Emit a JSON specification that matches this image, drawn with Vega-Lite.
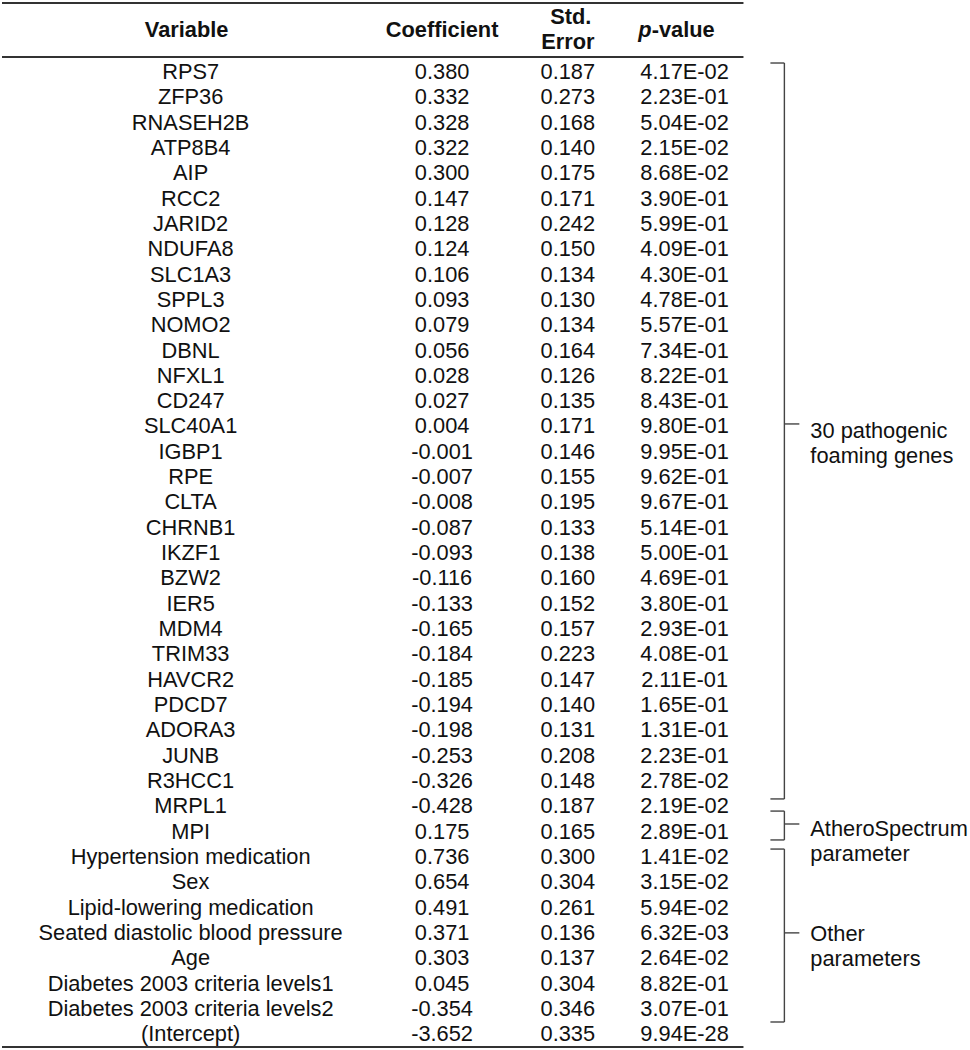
{
  "$schema": "https://vega.github.io/schema/vega-lite/v6.json",
  "width": 970,
  "height": 1050,
  "autosize": {"type": "fit", "contains": "padding"},
  "padding": 0,
  "background": "white",
  "data": {"values": [{}]},
  "config": {
    "view": {"stroke": null},
    "axis": {"disable": true},
    "text": {"font": "Liberation Sans", "fontSize": 21.8, "color": "#111111", "baseline": "middle"},
    "rule": {"color": "#333333"}
  },
  "datasets": {
    "rows": [
      {"row": 0, "variable": "RPS7", "coef": "0.380", "se": "0.187", "p": "4.17E-02"},
      {"row": 1, "variable": "ZFP36", "coef": "0.332", "se": "0.273", "p": "2.23E-01"},
      {"row": 2, "variable": "RNASEH2B", "coef": "0.328", "se": "0.168", "p": "5.04E-02"},
      {"row": 3, "variable": "ATP8B4", "coef": "0.322", "se": "0.140", "p": "2.15E-02"},
      {"row": 4, "variable": "AIP", "coef": "0.300", "se": "0.175", "p": "8.68E-02"},
      {"row": 5, "variable": "RCC2", "coef": "0.147", "se": "0.171", "p": "3.90E-01"},
      {"row": 6, "variable": "JARID2", "coef": "0.128", "se": "0.242", "p": "5.99E-01"},
      {"row": 7, "variable": "NDUFA8", "coef": "0.124", "se": "0.150", "p": "4.09E-01"},
      {"row": 8, "variable": "SLC1A3", "coef": "0.106", "se": "0.134", "p": "4.30E-01"},
      {"row": 9, "variable": "SPPL3", "coef": "0.093", "se": "0.130", "p": "4.78E-01"},
      {"row": 10, "variable": "NOMO2", "coef": "0.079", "se": "0.134", "p": "5.57E-01"},
      {"row": 11, "variable": "DBNL", "coef": "0.056", "se": "0.164", "p": "7.34E-01"},
      {"row": 12, "variable": "NFXL1", "coef": "0.028", "se": "0.126", "p": "8.22E-01"},
      {"row": 13, "variable": "CD247", "coef": "0.027", "se": "0.135", "p": "8.43E-01"},
      {"row": 14, "variable": "SLC40A1", "coef": "0.004", "se": "0.171", "p": "9.80E-01"},
      {"row": 15, "variable": "IGBP1", "coef": "-0.001", "se": "0.146", "p": "9.95E-01"},
      {"row": 16, "variable": "RPE", "coef": "-0.007", "se": "0.155", "p": "9.62E-01"},
      {"row": 17, "variable": "CLTA", "coef": "-0.008", "se": "0.195", "p": "9.67E-01"},
      {"row": 18, "variable": "CHRNB1", "coef": "-0.087", "se": "0.133", "p": "5.14E-01"},
      {"row": 19, "variable": "IKZF1", "coef": "-0.093", "se": "0.138", "p": "5.00E-01"},
      {"row": 20, "variable": "BZW2", "coef": "-0.116", "se": "0.160", "p": "4.69E-01"},
      {"row": 21, "variable": "IER5", "coef": "-0.133", "se": "0.152", "p": "3.80E-01"},
      {"row": 22, "variable": "MDM4", "coef": "-0.165", "se": "0.157", "p": "2.93E-01"},
      {"row": 23, "variable": "TRIM33", "coef": "-0.184", "se": "0.223", "p": "4.08E-01"},
      {"row": 24, "variable": "HAVCR2", "coef": "-0.185", "se": "0.147", "p": "2.11E-01"},
      {"row": 25, "variable": "PDCD7", "coef": "-0.194", "se": "0.140", "p": "1.65E-01"},
      {"row": 26, "variable": "ADORA3", "coef": "-0.198", "se": "0.131", "p": "1.31E-01"},
      {"row": 27, "variable": "JUNB", "coef": "-0.253", "se": "0.208", "p": "2.23E-01"},
      {"row": 28, "variable": "R3HCC1", "coef": "-0.326", "se": "0.148", "p": "2.78E-02"},
      {"row": 29, "variable": "MRPL1", "coef": "-0.428", "se": "0.187", "p": "2.19E-02"},
      {"row": 30, "variable": "MPI", "coef": "0.175", "se": "0.165", "p": "2.89E-01"},
      {"row": 31, "variable": "Hypertension medication", "coef": "0.736", "se": "0.300", "p": "1.41E-02"},
      {"row": 32, "variable": "Sex", "coef": "0.654", "se": "0.304", "p": "3.15E-02"},
      {"row": 33, "variable": "Lipid-lowering medication", "coef": "0.491", "se": "0.261", "p": "5.94E-02"},
      {"row": 34, "variable": "Seated diastolic blood pressure", "coef": "0.371", "se": "0.136", "p": "6.32E-03"},
      {"row": 35, "variable": "Age", "coef": "0.303", "se": "0.137", "p": "2.64E-02"},
      {"row": 36, "variable": "Diabetes 2003 criteria levels1", "coef": "0.045", "se": "0.304", "p": "8.82E-01"},
      {"row": 37, "variable": "Diabetes 2003 criteria levels2", "coef": "-0.354", "se": "0.346", "p": "3.07E-01"},
      {"row": 38, "variable": "(Intercept)", "coef": "-3.652", "se": "0.335", "p": "9.94E-28"}
    ],
    "groups": [
      {"label": ["30 pathogenic", "foaming genes"], "first": -0.355, "last": 28.71, "mid": 13.9, "labelRow": 14.16},
      {"label": ["AtheroSpectrum", "parameter"], "first": 29.19, "last": 30.33, "mid": 29.7, "labelRow": 29.88},
      {"label": ["Other", "parameters"], "first": 30.69, "last": 37.52, "mid": 34.0, "labelRow": 34.06}
    ]
  },
  "layer": [
    {
      "data": {"name": "rows"},
      "mark": {"type": "text", "align": "center"},
      "encoding": {
        "x": {"datum": 189, "type": "quantitative", "scale": {"domain": [0, 970], "nice": false, "zero": false}, "axis": null},
        "y": {"field": "row", "type": "quantitative", "scale": {"domain": [-2.8436, 38.626], "nice": false, "zero": false, "reverse": true}, "axis": null},
        "text": {"field": "variable"}
      }
    },
    {
      "data": {"name": "rows"},
      "mark": {"type": "text", "align": "center"},
      "encoding": {
        "x": {"datum": 441},
        "y": {"field": "row", "type": "quantitative"},
        "text": {"field": "coef"}
      }
    },
    {
      "data": {"name": "rows"},
      "mark": {"type": "text", "align": "center"},
      "encoding": {
        "x": {"datum": 567},
        "y": {"field": "row", "type": "quantitative"},
        "text": {"field": "se"}
      }
    },
    {
      "data": {"name": "rows"},
      "mark": {"type": "text", "align": "center"},
      "encoding": {
        "x": {"datum": 684},
        "y": {"field": "row", "type": "quantitative"},
        "text": {"field": "p"}
      }
    },
    {
      "mark": {"type": "text", "align": "center", "fontWeight": "bold", "text": "Variable"},
      "encoding": {"x": {"datum": 185}, "y": {"datum": -1.66}}
    },
    {
      "mark": {"type": "text", "align": "center", "fontWeight": "bold", "text": "Coefficient"},
      "encoding": {"x": {"datum": 441}, "y": {"datum": -1.66}}
    },
    {
      "mark": {"type": "text", "align": "center", "fontWeight": "bold", "text": "Std."},
      "encoding": {"x": {"datum": 570}, "y": {"datum": -2.17}}
    },
    {
      "mark": {"type": "text", "align": "center", "fontWeight": "bold", "text": "Error"},
      "encoding": {"x": {"datum": 567}, "y": {"datum": -1.18}}
    },
    {
      "mark": {"type": "text", "align": "right", "fontWeight": "bold", "fontStyle": "italic", "text": "p"},
      "encoding": {"x": {"datum": 651}, "y": {"datum": -1.66}}
    },
    {
      "mark": {"type": "text", "align": "left", "fontWeight": "bold", "text": "-value"},
      "encoding": {"x": {"datum": 651}, "y": {"datum": -1.66}}
    },
    {
      "mark": {"type": "rule", "strokeWidth": 2.2},
      "encoding": {"x": {"datum": 0}, "x2": {"datum": 743}, "y": {"datum": -2.725}}
    },
    {
      "mark": {"type": "rule", "strokeWidth": 2.2},
      "encoding": {"x": {"datum": 0}, "x2": {"datum": 743}, "y": {"datum": -0.592}}
    },
    {
      "mark": {"type": "rule", "strokeWidth": 2.2},
      "encoding": {"x": {"datum": 0}, "x2": {"datum": 743}, "y": {"datum": 38.507}}
    },
    {
      "data": {"name": "groups"},
      "mark": {"type": "rule", "strokeWidth": 1.4, "color": "#444444"},
      "encoding": {"x": {"datum": 770}, "x2": {"datum": 784}, "y": {"field": "first", "type": "quantitative"}}
    },
    {
      "data": {"name": "groups"},
      "mark": {"type": "rule", "strokeWidth": 1.4, "color": "#444444"},
      "encoding": {"x": {"datum": 770}, "x2": {"datum": 784}, "y": {"field": "last", "type": "quantitative"}}
    },
    {
      "data": {"name": "groups"},
      "mark": {"type": "rule", "strokeWidth": 1.4, "color": "#444444"},
      "encoding": {"x": {"datum": 784}, "y": {"field": "first", "type": "quantitative"}, "y2": {"field": "last"}}
    },
    {
      "data": {"name": "groups"},
      "mark": {"type": "rule", "strokeWidth": 1.4, "color": "#444444"},
      "encoding": {"x": {"datum": 784}, "x2": {"datum": 799}, "y": {"field": "mid", "type": "quantitative"}}
    },
    {
      "data": {"name": "groups"},
      "mark": {"type": "text", "align": "left", "lineHeight": 25},
      "encoding": {"x": {"datum": 810}, "y": {"field": "labelRow", "type": "quantitative"}, "text": {"field": "label"}}
    }
  ]
}
